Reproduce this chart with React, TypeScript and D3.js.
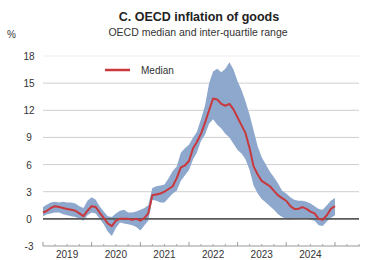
import React from "react";
import { scaleLinear, scaleTime, area, line, curveLinear } from "d3";

// monthly, Jan 2019 .. Jan 2025
const startYear = 2019;
const median: number[] = [
  0.7, 0.9, 1.2, 1.4, 1.3, 1.2, 1.1, 1.0, 0.9, 0.6, 0.3, 0.9,
  1.4, 1.3, 0.7, 0.1, -0.5, -0.8, -0.2, 0.0, 0.0, 0.0, -0.1, 0.0,
  -0.2, 0.1, 0.6, 2.6, 2.7, 2.8, 3.0, 3.3, 3.6, 4.5, 5.7, 5.9,
  6.4, 7.8, 8.5, 9.4, 10.6, 12.0, 13.3, 13.2, 12.7, 12.5, 12.7, 12.1,
  11.2, 10.3, 9.5, 7.8, 5.8, 4.9, 4.2, 3.9, 3.6, 3.1, 2.6, 2.3,
  2.0, 1.4, 1.1, 1.1, 1.3, 1.1, 0.8, 0.6, 0.0, -0.1, 0.4, 1.1,
  1.4,
];
const upper: number[] = [
  1.3, 1.6, 1.8, 1.9, 1.8, 1.9, 1.8, 1.8, 1.7, 1.4, 1.2, 2.0,
  2.4, 2.1, 1.4, 0.8, 0.3, 0.2, 0.6, 0.9, 1.0, 0.7, 0.7, 0.8,
  1.0, 1.2, 1.5, 3.4, 3.6, 3.7, 3.8, 4.5, 5.3, 5.8, 7.3, 7.8,
  8.2, 9.0, 9.6, 11.0, 12.5, 15.0, 16.3, 16.6, 16.2, 16.6, 17.3, 16.5,
  15.2, 14.2, 13.0, 11.5, 9.8, 8.0, 6.8, 6.0, 5.2, 4.6, 3.9, 3.1,
  2.8, 2.4, 2.1, 2.0, 2.0, 1.9, 1.7, 1.4, 1.1, 1.0, 1.5, 2.0,
  2.3,
];
const lower: number[] = [
  0.3, 0.5, 0.6, 0.7, 0.7, 0.5, 0.4, 0.3, 0.2, 0.0, -0.2, 0.4,
  0.7, 0.6, 0.0, -0.6, -1.4, -1.9, -1.0, -0.4, -0.5, -0.6, -0.7, -0.9,
  -1.3, -0.7, -0.2, 2.1, 2.0, 1.8, 1.8, 2.3, 2.8, 3.1, 4.2, 4.8,
  5.4, 6.6, 7.3, 8.6, 9.3, 10.5, 11.0, 10.4, 10.0, 9.4, 9.0, 8.3,
  7.6, 7.2, 6.6, 5.4, 3.7, 2.8, 2.2, 1.8, 1.4, 1.0, 0.5, 0.2,
  0.0, -0.1, 0.0, 0.0, 0.0, 0.0, -0.1, -0.2, -0.7, -0.8, -0.3, 0.1,
  0.4,
];
const yTicks = [-3, 0, 3, 6, 9, 12, 15, 18];
const years = [2019, 2020, 2021, 2022, 2023, 2024];

const font = "Arial, 'Liberation Sans', sans-serif";

const App: React.FC = () => {
  const width = 368;
  const height = 260;
  const left = 43;
  const right = 360;

  const x = scaleTime()
    .domain([new Date(2019, 0, 1), new Date(2025, 6, 8)])
    .range([left, right]);
  const y = scaleLinear().domain([-3, 18]).range([246, 56]);

  const rows = median.map((m, i) => ({
    date: new Date(startYear, i, 1),
    m,
    lo: lower[i],
    hi: upper[i],
  }));

  const bandPath = area<any>()
    .x((d) => x(d.date))
    .y0((d) => y(d.lo))
    .y1((d) => y(d.hi))
    .curve(curveLinear)(rows);
  const medPath = line<any>()
    .x((d) => x(d.date))
    .y((d) => y(d.m))(rows);

  const majors: Date[] = [];
  for (let yr = 2019; yr <= 2025; yr++) majors.push(new Date(yr, 0, 1));
  const minors: Date[] = [];
  for (let q = 1; q < 27; q++) {
    if (q % 4 !== 0) minors.push(new Date(2019, q * 3, 1));
  }

  return (
    <div style={{ position: "absolute", left: 0, top: 0 }}>
      <svg width={width} height={height} style={{ display: "block", background: "#fff" }}>
        <text x={199} y={21} textAnchor="middle" fontFamily={font} fontSize={12.5} fontWeight="bold" fill="#222">
          C. OECD inflation of goods
        </text>
        <text x={198} y={36} textAnchor="middle" fontFamily={font} fontSize={10.5} fill="#333">
          OECD median and inter-quartile range
        </text>
        <text x={7} y={38} fontFamily={font} fontSize={10} fill="#333">%</text>

        {yTicks.map((t) => (
          <g key={t}>
            {t > -3 && t !== 0 && (
              <line x1={left} x2={right - 1} y1={y(t)} y2={y(t)}
                stroke={t === 18 ? "#eeeeee" : "#cfcfcf"} strokeWidth={1} />
            )}
            <text x={29} y={y(t) + 4} textAnchor="middle" fontFamily={font} fontSize={10} fill="#333">
              {t}
            </text>
          </g>
        ))}

        <path d={bandPath || ""} fill="#8ea8cd" />
        <line x1={left} x2={right - 1} y1={y(0)} y2={y(0)} stroke="#5a5a5a" strokeWidth={1.6} />
        <path d={medPath || ""} fill="none" stroke="#c8383c" strokeWidth={2} strokeLinejoin="round" />

        <line x1={left} x2={right} y1={y(-3)} y2={y(-3)} stroke="#999" strokeWidth={1} />
        {majors.map((d, i) => (
          <line key={"M" + i} x1={x(d)} x2={x(d)} y1={y(-3)} y2={y(-3) - 4} stroke="#999" />
        ))}
        {minors.map((d, i) => (
          <line key={"m" + i} x1={x(d)} x2={x(d)} y1={y(-3)} y2={y(-3) - 2} stroke="#aaa" />
        ))}
        {years.map((yr) => (
          <text key={yr} x={x(new Date(yr, 6, 1))} y={258} textAnchor="middle" fontFamily={font} fontSize={10} fill="#333">
            {yr}
          </text>
        ))}

        <line x1={105} x2={130} y1={70} y2={70} stroke="#c8383c" strokeWidth={2.5} />
        <text x={141} y={74} fontFamily={font} fontSize={10} fill="#333">Median</text>
      </svg>
    </div>
  );
};

export default App;
